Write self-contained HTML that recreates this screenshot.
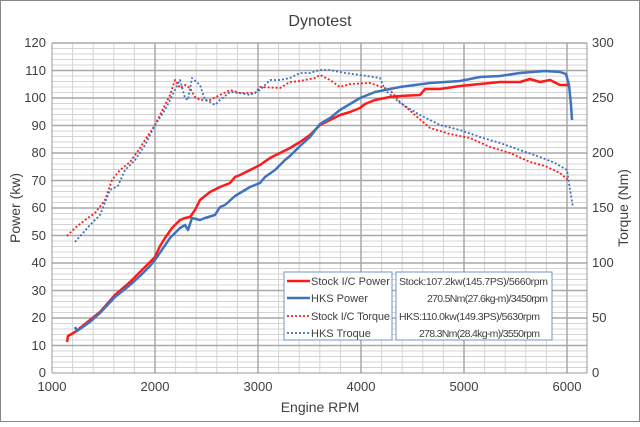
<!DOCTYPE html>
<html><head><style>
body{margin:0;background:#fff;}
svg text{font-family:"Liberation Sans",sans-serif;fill:#404040;}
</style></head><body>
<svg width="640" height="422" xmlns="http://www.w3.org/2000/svg">
<rect x="0.5" y="0.5" width="639" height="421" fill="#fff" stroke="#888"/>
<text x="320" y="26" font-size="16" text-anchor="middle" fill="#222">Dynotest</text>
<path fill="none" stroke="#d4d4d4" stroke-width="1" d="M72.6 43V373M93.2 43V373M113.8 43V373M134.4 43V373M175.6 43V373M196.2 43V373M216.8 43V373M237.4 43V373M278.6 43V373M299.2 43V373M319.8 43V373M340.4 43V373M381.6 43V373M402.2 43V373M422.8 43V373M443.4 43V373M484.6 43V373M505.2 43V373M525.8 43V373M546.4 43V373
M52 367.5H587M52 362H587M52 356.5H587M52 351H587M52 340H587M52 334.5H587M52 329H587M52 323.5H587M52 312.5H587M52 307H587M52 301.5H587M52 296H587M52 285H587M52 279.5H587M52 274H587M52 268.5H587M52 257.5H587M52 252H587M52 246.5H587M52 241H587M52 230H587M52 224.5H587M52 219H587M52 213.5H587M52 202.5H587M52 197H587M52 191.5H587M52 186H587M52 175H587M52 169.5H587M52 164H587M52 158.5H587M52 147.5H587M52 142H587M52 136.5H587M52 131H587M52 120H587M52 114.5H587M52 109H587M52 103.5H587M52 92.5H587M52 87H587M52 81.5H587M52 76H587M52 65H587M52 59.5H587M52 54H587M52 48.5H587"/>
<path fill="none" stroke="#a8a8a8" stroke-width="1.5" d="M155 43V373M258 43V373M361 43V373M464 43V373M567 43V373
M52 345.5H587M52 318H587M52 290.5H587M52 263H587M52 235.5H587M52 208H587M52 180.5H587M52 153H587M52 125.5H587M52 98H587M52 70.5H587M52 43H587"/>
<line x1="52" y1="43" x2="52" y2="373" stroke="#999"/>
<line x1="587" y1="43" x2="587" y2="373" stroke="#999"/>
<line x1="52" y1="373" x2="587" y2="373" stroke="#999"/>
<g font-size="13" text-anchor="end">
<text x="46" y="47">120</text><text x="46" y="75">110</text><text x="46" y="102">100</text><text x="46" y="130">90</text><text x="46" y="157">80</text><text x="46" y="185">70</text><text x="46" y="212">60</text><text x="46" y="240">50</text><text x="46" y="267">40</text><text x="46" y="295">30</text><text x="46" y="322">20</text><text x="46" y="350">10</text><text x="46" y="377">0</text>
</g>
<g font-size="13" text-anchor="start">
<text x="592" y="47">300</text><text x="592" y="102">250</text><text x="592" y="157">200</text><text x="592" y="212">150</text><text x="592" y="267">100</text><text x="592" y="322">50</text><text x="592" y="377">0</text>
</g>
<g font-size="13" text-anchor="middle">
<text x="52" y="391">1000</text><text x="155" y="391">2000</text><text x="258" y="391">3000</text><text x="361" y="391">4000</text><text x="464" y="391">5000</text><text x="567" y="391">6000</text>
</g>
<text x="320" y="412" font-size="14" text-anchor="middle">Engine RPM</text>
<text transform="translate(20,208) rotate(-90)" font-size="14" text-anchor="middle">Power (kw)</text>
<text transform="translate(628,208) rotate(-90)" font-size="14" text-anchor="middle">Torque (Nm)</text>
<g fill="none" stroke-linejoin="round">
<polyline stroke="#ff1a1a" stroke-width="1.8" stroke-dasharray="2,2" points="67,236 75,228 85,220 95,213 105,200 112,180 120,170 130,162 140,148 145,140 155,125 160,115 170,95 175,80 180,88 185,85 190,88 195,97 200,100 210,100 220,95 230,90 240,93 255,93 260,87 280,88 290,82 300,81 315,78 320,75 330,80 340,87 350,84 370,83 390,90 400,102 415,115 430,128 450,134 470,138 490,147 510,153 530,162 545,166 560,173 568,180"/>
<polyline stroke="#3f73c0" stroke-width="1.8" stroke-dasharray="2,2" points="75,242 90,225 100,215 110,190 118,186 125,170 135,160 145,145 155,125 165,110 175,90 180,80 185,98 188,100 192,78 200,85 205,100 210,102 215,105 220,100 230,92 240,93 250,95 260,90 270,80 280,80 290,78 300,73 310,73 320,70 330,70 345,73 360,75 380,78 385,90 400,103 420,115 440,125 460,130 480,137 500,143 520,150 540,157 555,163 567,170 570,190 573,207"/>
<polyline stroke="#ff1a1a" stroke-width="2.5" points="67,342 68,336 75,332 90,320 100,312 115,295 130,282 140,272 150,262 155,257 160,246 165,238 172,228 180,220 185,218 190,217 195,210 200,200 210,192 220,187 230,183 235,177 240,175 250,170 260,165 270,158 280,153 290,148 300,142 310,135 320,125 330,120 340,115 350,112 360,108 365,104 375,100 390,97 400,96 420,95 425,89 440,89 460,86 480,84 500,82 520,82 530,79 540,82 550,80 560,85 570,85"/>
<polyline stroke="#3f73c0" stroke-width="2.5" points="75,327 77,331 90,322 100,313 115,297 130,285 140,276 150,266 155,260 170,238 180,228 185,225 188,230 192,218 200,220 205,218 215,215 220,207 225,205 235,196 250,187 260,183 265,177 275,170 285,160 290,156 300,146 310,137 320,124 330,118 340,110 350,104 360,98 375,92 385,90 400,87 430,83 460,81 480,77 500,76 520,73 545,71 560,72 566,74 569,85 571,105 572,120"/>
</g>
<rect x="284" y="272" width="108" height="68" fill="#fff" stroke="#6f94c8"/>
<g font-size="11">
<line x1="287" y1="281" x2="310" y2="281" stroke="#ff1a1a" stroke-width="2.5"/><text x="311" y="285">Stock I/C Power</text>
<line x1="287" y1="298" x2="310" y2="298" stroke="#3f73c0" stroke-width="2.5"/><text x="311" y="302">HKS Power</text>
<line x1="287" y1="316" x2="310" y2="316" stroke="#ff1a1a" stroke-width="1.8" stroke-dasharray="2,2"/><text x="311" y="320" textLength="79">Stock I/C Torque</text>
<line x1="287" y1="333" x2="310" y2="333" stroke="#3f73c0" stroke-width="1.8" stroke-dasharray="2,2"/><text x="311" y="337">HKS Troque</text>
</g>
<rect x="396" y="272" width="156" height="68" fill="#fff" stroke="#6f94c8"/>
<g font-size="10.5">
<text x="399" y="285" textLength="149">Stock:107.2kw(145.7PS)/5660rpm</text>
<text x="427" y="302" textLength="121">270.5Nm(27.6kg-m)/3450rpm</text>
<text x="399" y="320" textLength="141">HKS:110.0kw(149.3PS)/5630rpm</text>
<text x="419" y="337" textLength="121">278.3Nm(28.4kg-m)/3550rpm</text>
</g>
</svg>
</body></html>
